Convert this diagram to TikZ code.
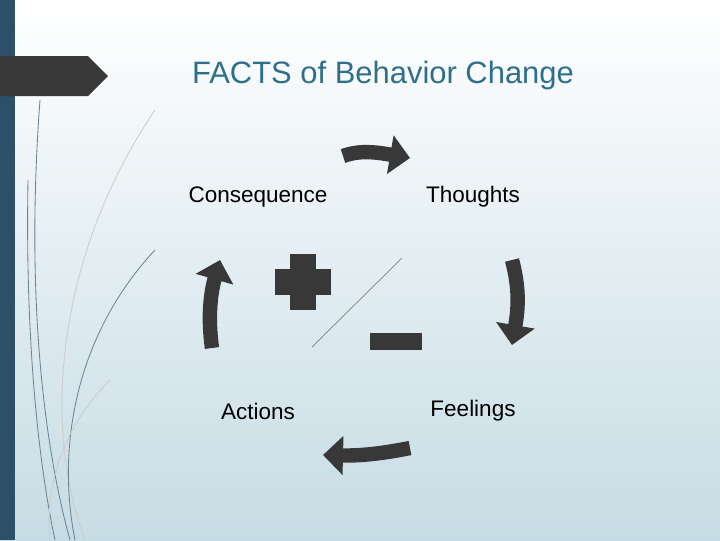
\documentclass[tikz,border=0pt]{standalone}
\usepackage{fontspec}
\setmainfont{Liberation Sans}
\usetikzlibrary{arrows.meta}
\definecolor{sidebar}{HTML}{2B5068}
\definecolor{titleblue}{HTML}{2F6F8C}
\definecolor{bgbottom}{HTML}{C6DCE4}
\definecolor{arrowgray}{HTML}{383838}
\tikzset{
  word/.style={font=\fontsize{16}{18}\selectfont, text=black},
  bigarrow/.style={line width=0.36cm, draw=arrowgray,
    -{Triangle[length=0.5cm, width=0.95cm]}},
  deco/.style={draw=sidebar!70, line width=0.6pt},
}
\begin{document}
\begin{tikzpicture}[x=0.025cm, y=-0.025cm]
    \useasboundingbox (0,0) rectangle (720,540);
    \shade[top color=white, bottom color=bgbottom] (0,0) rectangle (720,540);
    \fill[sidebar] (0,0) rectangle (15,540);
    \fill[arrowgray] (0,56) -- (88,56) -- (108,76) -- (88,96) -- (0,96) -- cycle;

    % decorative curves on the left
    \draw[deco] (40,100) .. controls (25,300) and (45,450) .. (70,540);
    \draw[deco] (28,180) .. controls (25,350) and (40,470) .. (55,540);
    \draw[deco, draw=gray!40] (155,110) .. controls (60,250) and (40,420) .. (85,540);
    \draw[deco] (155,250) .. controls (80,330) and (55,440) .. (75,540);
    \draw[deco, draw=gray!40] (110,380) .. controls (60,430) and (45,490) .. (50,540);

    \node[font=\fontsize{22}{26}\selectfont, text=titleblue] (title) at (383,75) {FACTS of Behavior Change};

    \node[word] (cons) at (258,197) {Consequence};
    \node[word] (thou) at (473,197) {Thoughts};
    \node[word] (act) at (258,411) {Actions};
    \node[word] (feel) at (473,411) {Feelings};

    % cycle arrows
    \draw[bigarrow] (343,156) .. controls (360,150) and (375,152) .. (410,158);
    \draw[bigarrow] (512,260) .. controls (520,290) and (518,310) .. (512,345);
    \draw[bigarrow] (410,448) .. controls (390,452) and (365,456) .. (323,455);
    \draw[bigarrow] (212,348) .. controls (208,320) and (210,295) .. (220,260);

    % plus and minus
    \fill[arrowgray] (290,254) rectangle (316,310);
    \fill[arrowgray] (275,269) rectangle (331,295);
    \fill[arrowgray] (370,333) rectangle (422,350);
    \coordinate (d1) at (312,347);
    \coordinate (d2) at (402,258);
    \draw[gray, line width=0.5pt] (d1) -- (d2);
\end{tikzpicture}
\end{document}
